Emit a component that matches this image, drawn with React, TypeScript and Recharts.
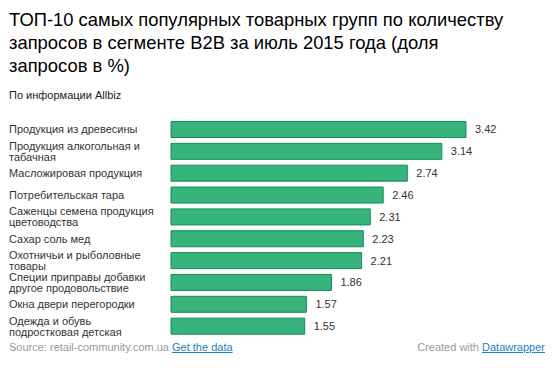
import { BarChart, Bar, XAxis, YAxis, LabelList } from 'recharts';

const titleLines = [
    'ТОП-10 самых популярных товарных групп по количеству',
    'запросов в сегменте B2B за июль 2015 года (доля',
    'запросов в %)',
];

const categories = [
    'Продукция из древесины',
    'Продукция алкогольная и\nтабачная',
    'Масложировая продукция',
    'Потребительская тара',
    'Саженцы семена продукция\nцветоводства',
    'Сахар соль мед',
    'Охотничьи и рыболовные\nтовары',
    'Специи приправы добавки\nдругое продовольствие',
    'Окна двери перегородки',
    'Одежда и обувь\nподростковая детская',
];

const shares = [3.42, 3.14, 2.74, 2.46, 2.31, 2.23, 2.21, 1.86, 1.57, 1.55];

const chartData = categories.map((name, i) => ({ name, value: shares[i] }));

const FONT = '"Liberation Sans", Arial, sans-serif';

function CategoryTick(props: any) {
    const { y, payload } = props;
    const lines = String(payload.value).split('\n');
    const lineHeight = 11;
    const startY = y - ((lines.length - 1) * lineHeight) / 2;
    return (
        <text x={9} y={startY} textAnchor="start" fill="#333" fontSize={11} fontFamily={FONT} dominantBaseline="central">
            {lines.map((line, i) => (
                <tspan key={i} x={9} y={startY + i * lineHeight}>
                    {line}
                </tspan>
            ))}
        </text>
    );
}

export default function App() {
    return (
        <div style={{ position: 'absolute', left: 0, top: 0, width: 558, height: 375, background: '#fff', fontFamily: FONT }}>
            <div style={{ position: 'absolute', left: 9, top: 8, width: 545, fontSize: 18.4, lineHeight: '23px', color: '#000', whiteSpace: 'nowrap' }}>
                {titleLines.map((line) => (
                    <div key={line}>{line}</div>
                ))}
            </div>
            <div style={{ position: 'absolute', left: 9, top: 89, fontSize: 11, color: '#222' }}>По информации Allbiz</div>

            <div style={{ position: 'absolute', left: 0, top: 0 }}>
                <BarChart
                    width={558}
                    height={375}
                    data={chartData}
                    layout="vertical"
                    margin={{ top: 118.5, right: 42, bottom: 38, left: 0 }}
                    barCategoryGap={0}
                >
                    <XAxis type="number" domain={[0, 4]} hide />
                    <YAxis
                        type="category"
                        dataKey="name"
                        width={171}
                        axisLine={false}
                        tickLine={false}
                        interval={0}
                        tick={<CategoryTick />}
                    />
                    <Bar dataKey="value" fill="#37b37c" stroke="#0e8f5a" strokeWidth={1} barSize={16} isAnimationActive={false}>
                        <LabelList dataKey="value" position="right" offset={9} fill="#333" fontSize={11} fontFamily={FONT} formatter={(v: any) => Number(v).toFixed(2)} />
                    </Bar>
                </BarChart>
            </div>

            <div style={{ position: 'absolute', left: 9, top: 341, fontSize: 11, color: '#999' }}>
                Source: retail-community.com.ua{' '}
                <span style={{ color: '#1a7fc4', textDecoration: 'underline' }}>Get the data</span>
            </div>
            <div style={{ position: 'absolute', right: 13, top: 341, fontSize: 11, color: '#999' }}>
                Created with <span style={{ color: '#1a7fc4', textDecoration: 'underline' }}>Datawrapper</span>
            </div>
        </div>
    );
}
